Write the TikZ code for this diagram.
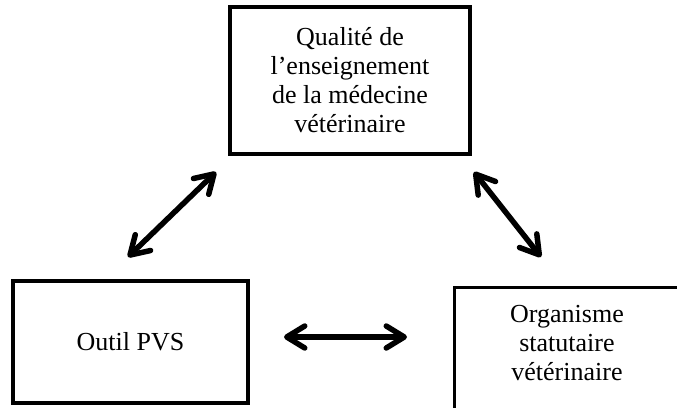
\documentclass[tikz,border=0pt]{standalone}
\usepackage{fontspec}
\setmainfont{Liberation Serif}
\usetikzlibrary{arrows.meta}
\begin{document}
\begin{tikzpicture}[x=1pt,y=-1pt,
  box/.style={draw, line width=3.2pt, inner sep=0pt},
  txt/.style={align=center, font=\fontsize{26}{29}\selectfont, inner sep=0pt},
  biarrow/.style={line width=5.5pt, line cap=round,
    arrows={Straight Barb[round,length=18pt,width=22pt]-Straight Barb[round,length=18pt,width=22pt]}}]
\useasboundingbox (0,0) rectangle (677,407);
% boxes
\node[box, txt, minimum width=240pt, minimum height=147pt] (qual) at (350,80.5)
  {Qualité de\\l’enseignement\\de la médecine\\vétérinaire};
\node[box, txt, minimum width=235pt, minimum height=122pt] (pvs) at (130.5,342) {Outil PVS};
\node[box, minimum width=227pt, minimum height=129pt, anchor=north west] (org) at (453,286) {};
\node[txt] (orgt) at (567,343) {Organisme\\statutaire\\vétérinaire};
% arrow ends
\coordinate (a1) at (128,257);
\coordinate (a2) at (216,172);
\coordinate (b1) at (474,172);
\coordinate (b2) at (541,257);
\coordinate (c1) at (284,337);
\coordinate (c2) at (407,337);
\draw[biarrow] (a1) -- (a2);
\draw[biarrow] (b1) -- (b2);
\draw[biarrow] (c1) -- (c2);
\end{tikzpicture}
\end{document}
